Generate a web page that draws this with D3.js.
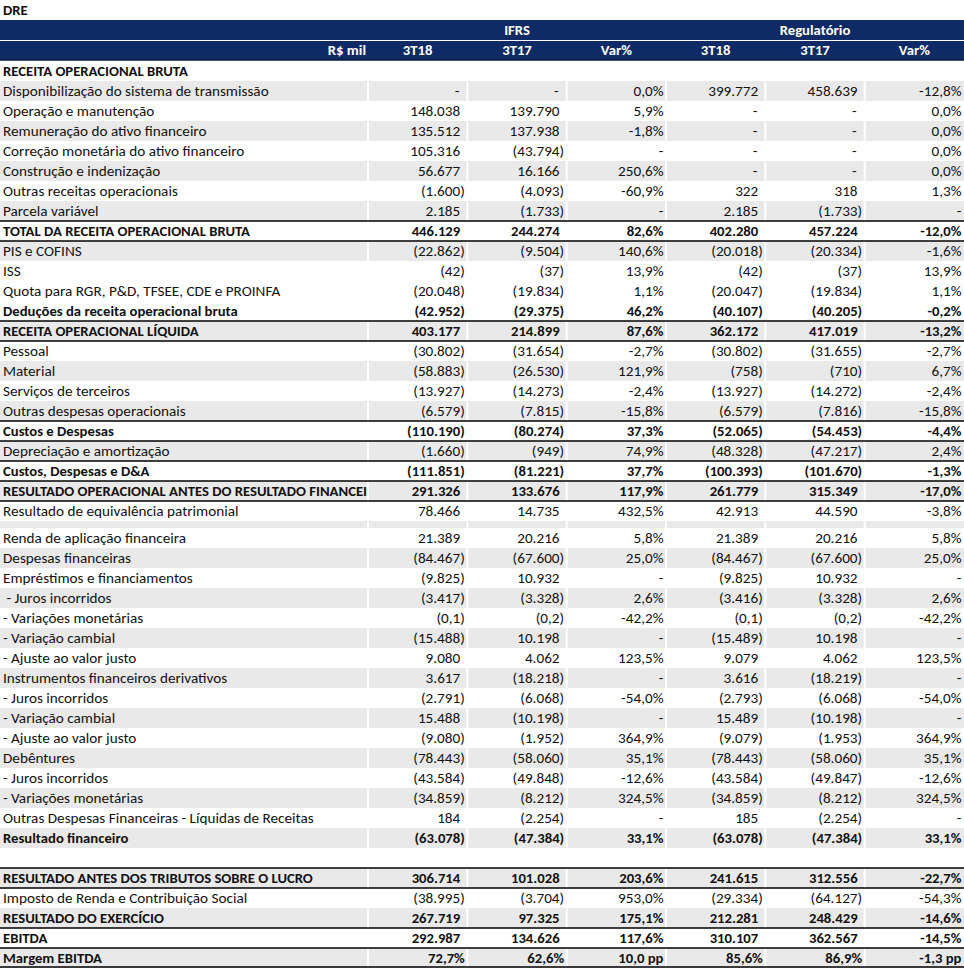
<!DOCTYPE html>
<html><head><meta charset="utf-8">
<script src="https://cdn.jsdelivr.net/npm/d3@7"></script>
<style>html,body{margin:0;padding:0;background:#fff;} svg{display:block;} text{white-space:pre;}</style>
</head><body><div id="chart"></div>
<script>
// ---------------- DATA ----------------
const title = "DRE";
const groups = ["IFRS", "Regulatório"];
const unitLabel = "R$ mil";
const periods = ["3T18", "3T17", "Var%", "3T18", "3T17", "Var%"];

const labels = [
  "RECEITA OPERACIONAL BRUTA",
  "Disponibilização do sistema de transmissão",
  "Operação e manutenção",
  "Remuneração do ativo financeiro",
  "Correção monetária do ativo financeiro",
  "Construção e indenização",
  "Outras receitas operacionais",
  "Parcela variável",
  "TOTAL DA RECEITA OPERACIONAL BRUTA",
  "PIS e COFINS",
  "ISS",
  "Quota para RGR, P&D, TFSEE, CDE e PROINFA",
  "Deduções da receita operacional bruta",
  "RECEITA OPERACIONAL LÍQUIDA",
  "Pessoal",
  "Material",
  "Serviços de terceiros",
  "Outras despesas operacionais",
  "Custos e Despesas",
  "Depreciação e amortização",
  "Custos, Despesas e D&A",
  "RESULTADO OPERACIONAL ANTES DO RESULTADO FINANCEIRO",
  "Resultado de equivalência patrimonial",
  "",
  "Renda de aplicação financeira",
  "Despesas financeiras",
  "Empréstimos e financiamentos",
  " - Juros incorridos",
  "- Variações monetárias",
  "- Variação cambial",
  "- Ajuste ao valor justo",
  "Instrumentos financeiros derivativos",
  "- Juros incorridos",
  "- Variação cambial",
  "- Ajuste ao valor justo",
  "Debêntures",
  "- Juros incorridos",
  "- Variações monetárias",
  "Outras Despesas Financeiras - Líquidas de Receitas",
  "Resultado financeiro",
  "",
  "RESULTADO ANTES DOS TRIBUTOS SOBRE O LUCRO",
  "Imposto de Renda e Contribuição Social",
  "RESULTADO DO EXERCÍCIO",
  "EBITDA",
  "Margem EBITDA"
];

// row kinds: section, item, total, spacer, blank
const rowKinds = [
  "section","item","item","item","item","item","item","item","total",
  "item","item","item","total","total",
  "item","item","item","item","total","item","total","total","item",
  "spacer",
  "item","item","item","item","item","item","item","item","item","item","item","item","item","item","item","total",
  "blank",
  "total","item","total","total","total"
];

const ifrs3T18 = ["","-","148.038","135.512","105.316","56.677","(1.600)","2.185","446.129",
  "(22.862)","(42)","(20.048)","(42.952)","403.177",
  "(30.802)","(58.883)","(13.927)","(6.579)","(110.190)","(1.660)","(111.851)","291.326","78.466",
  "",
  "21.389","(84.467)","(9.825)","(3.417)","(0,1)","(15.488)","9.080","3.617","(2.791)","15.488","(9.080)","(78.443)","(43.584)","(34.859)","184","(63.078)",
  "",
  "306.714","(38.995)","267.719","292.987","72,7%"];

const ifrs3T17 = ["","-","139.790","137.938","(43.794)","16.166","(4.093)","(1.733)","244.274",
  "(9.504)","(37)","(19.834)","(29.375)","214.899",
  "(31.654)","(26.530)","(14.273)","(7.815)","(80.274)","(949)","(81.221)","133.676","14.735",
  "",
  "20.216","(67.600)","10.932","(3.328)","(0,2)","10.198","4.062","(18.218)","(6.068)","(10.198)","(1.952)","(58.060)","(49.848)","(8.212)","(2.254)","(47.384)",
  "",
  "101.028","(3.704)","97.325","134.626","62,6%"];

const ifrsVar = ["","0,0%","5,9%","-1,8%","-","250,6%","-60,9%","-","82,6%",
  "140,6%","13,9%","1,1%","46,2%","87,6%",
  "-2,7%","121,9%","-2,4%","-15,8%","37,3%","74,9%","37,7%","117,9%","432,5%",
  "",
  "5,8%","25,0%","-","2,6%","-42,2%","-","123,5%","-","-54,0%","-","364,9%","35,1%","-12,6%","324,5%","-","33,1%",
  "",
  "203,6%","953,0%","175,1%","117,6%","10,0 pp"];

const reg3T18 = ["","399.772","-","-","-","-","322","2.185","402.280",
  "(20.018)","(42)","(20.047)","(40.107)","362.172",
  "(30.802)","(758)","(13.927)","(6.579)","(52.065)","(48.328)","(100.393)","261.779","42.913",
  "",
  "21.389","(84.467)","(9.825)","(3.416)","(0,1)","(15.489)","9.079","3.616","(2.793)","15.489","(9.079)","(78.443)","(43.584)","(34.859)","185","(63.078)",
  "",
  "241.615","(29.334)","212.281","310.107","85,6%"];

const reg3T17 = ["","458.639","-","-","-","-","318","(1.733)","457.224",
  "(20.334)","(37)","(19.834)","(40.205)","417.019",
  "(31.655)","(710)","(14.272)","(7.816)","(54.453)","(47.217)","(101.670)","315.349","44.590",
  "",
  "20.216","(67.600)","10.932","(3.328)","(0,2)","10.198","4.062","(18.219)","(6.068)","(10.198)","(1.953)","(58.060)","(49.847)","(8.212)","(2.254)","(47.384)",
  "",
  "312.556","(64.127)","248.429","362.567","86,9%"];

const regVar = ["","-12,8%","0,0%","0,0%","0,0%","0,0%","1,3%","-","-12,0%",
  "-1,6%","13,9%","1,1%","-0,2%","-13,2%",
  "-2,7%","6,7%","-2,4%","-15,8%","-4,4%","2,4%","-1,3%","-17,0%","-3,8%",
  "",
  "5,8%","25,0%","-","2,6%","-42,2%","-","123,5%","-","-54,0%","-","364,9%","35,1%","-12,6%","324,5%","-","33,1%",
  "",
  "-22,7%","-54,3%","-14,6%","-14,5%","-1,3 pp"];

const columns = [ifrs3T18, ifrs3T17, ifrsVar, reg3T18, reg3T17, regVar];

// ---------------- STYLE ----------------
const shadedRows = [1,3,5,7,9,13,15,17,19,21,23,25,27,29,31,33,35,37,39,41,43,45];
const boxedRows = [8,13,18,20,21,41,44,45];

const W = 964, H = 968;
const FONT = "Carlito, Calibri, Lato, 'Open Sans', sans-serif";
const NAVY = "#0f2a64", GRAY = "#e9e9e9", INK = "#111";

const svg = d3.select("#chart").append("svg").attr("width", W).attr("height", H);

function fitSize(sample, target, weight) {
  const t = svg.append("text").attr("font-family", FONT).attr("font-weight", weight)
    .attr("font-size", 100).text(sample);
  const w = t.node().getComputedTextLength();
  t.remove();
  return 100 * target / w;
}
const fsReg = fitSize("Disponibilização do sistema de transmissão", 266, 400);
const fsBold = fitSize("RESULTADO ANTES DOS TRIBUTOS SOBRE O LUCRO", 310, 700);
function measure(s, size, weight) {
  const t = svg.append("text").attr("font-family", FONT).attr("font-weight", weight)
    .attr("font-size", size).text(s);
  const w = t.node().getComputedTextLength(); t.remove(); return w;
}
const parenReg = measure(")", fsReg, 400);
const parenBold = measure(")", fsBold, 700);

// scales
const labelRight = 368;
const x = d3.scaleBand().domain(d3.range(periods.length)).range([labelRight, W]).padding(0);
const heights = rowKinds.map(k => k === "spacer" ? 7 : 20);
const tableTop = 61;
const tops = heights.map((h, i) => tableTop + d3.sum(heights.slice(0, i)));
const y = d3.scaleOrdinal().domain(d3.range(labels.length)).range(tops);

// title
svg.append("text").attr("x", 3).attr("y", 15).attr("font-family", FONT).attr("font-weight", 700)
  .attr("font-size", fsBold).attr("fill", INK).text(title);

// header band
svg.append("rect").attr("x", 0).attr("y", 20).attr("width", W).attr("height", 40).attr("fill", NAVY);
svg.append("line").attr("x1", 0).attr("x2", W).attr("y1", 40.5).attr("y2", 40.5).attr("stroke", "#fff").attr("stroke-width", 1);
svg.append("line").attr("x1", 0).attr("x2", W).attr("y1", 60).attr("y2", 60).attr("stroke", "#0a1a3f").attr("stroke-width", 1.5);

const hdr = svg.append("g").attr("font-family", FONT).attr("font-weight", 700)
  .attr("font-size", fsBold).attr("fill", "#fff");
groups.forEach((g, gi) => {
  const a = x(gi * 3), b = x(gi * 3 + 2) + x.bandwidth();
  hdr.append("text").attr("x", (a + b) / 2).attr("y", 35).attr("text-anchor", "middle").text(g);
});
hdr.append("text").attr("x", labelRight - 2).attr("y", 55).attr("text-anchor", "end").text(unitLabel);
periods.forEach((p, i) => {
  hdr.append("text").attr("x", x(i) + x.bandwidth() / 2).attr("y", 55).attr("text-anchor", "middle").text(p);
});

// row shading
svg.append("g").selectAll("rect").data(shadedRows).join("rect")
  .attr("x", 0).attr("y", d => y(d)).attr("width", W).attr("height", d => heights[d]).attr("fill", GRAY);

// white column separators
const bounds = [labelRight].concat(d3.range(1, periods.length).map(i => x(i)));
svg.append("g").selectAll("line").data(bounds).join("line")
  .attr("x1", d => d).attr("x2", d => d).attr("y1", tableTop).attr("y2", H)
  .attr("stroke", "#fff").attr("stroke-width", 2);

// borders
const borderYs = [];
boxedRows.forEach(r => { borderYs.push(y(r)); borderYs.push(Math.min(y(r) + heights[r], H - 1)); });
svg.append("g").selectAll("line").data(Array.from(new Set(borderYs))).join("line")
  .attr("x1", 0).attr("x2", W).attr("y1", d => d).attr("y2", d => d)
  .attr("stroke", "#000").attr("stroke-width", 1.5);

// label clip
svg.append("clipPath").attr("id", "lblclip").append("rect")
  .attr("x", 0).attr("y", 0).attr("width", labelRight - 1).attr("height", H);

const rowsG = svg.append("g").attr("font-family", FONT).attr("fill", INK);
labels.forEach((lab, i) => {
  const kind = rowKinds[i];
  if (kind === "spacer" || kind === "blank") return;
  const bold = kind === "total" || kind === "section";
  const fs = bold ? fsBold : fsReg;
  const fw = bold ? 700 : 400;
  const base = y(i) + 15;
  rowsG.append("text").attr("x", 3).attr("y", base).attr("font-size", fs).attr("font-weight", fw)
    .attr("clip-path", "url(#lblclip)").text(lab);
  columns.forEach((col, c) => {
    const v = col[i];
    if (!v) return;
    const right = x(c) + x.bandwidth();
    const isPct = periods[c] === "Var%" || /%$|pp$/.test(v);
    let xe;
    if (isPct) xe = right - 2.5;
    else if (v === "-") xe = right - 8;
    else if (v.endsWith(")")) xe = right - 2.5;
    else xe = right - 2.5 - (bold ? parenBold : parenReg);
    rowsG.append("text").attr("x", xe).attr("y", base).attr("text-anchor", "end")
      .attr("font-size", fs).attr("font-weight", fw).text(v);
  });
});
</script></body></html>
